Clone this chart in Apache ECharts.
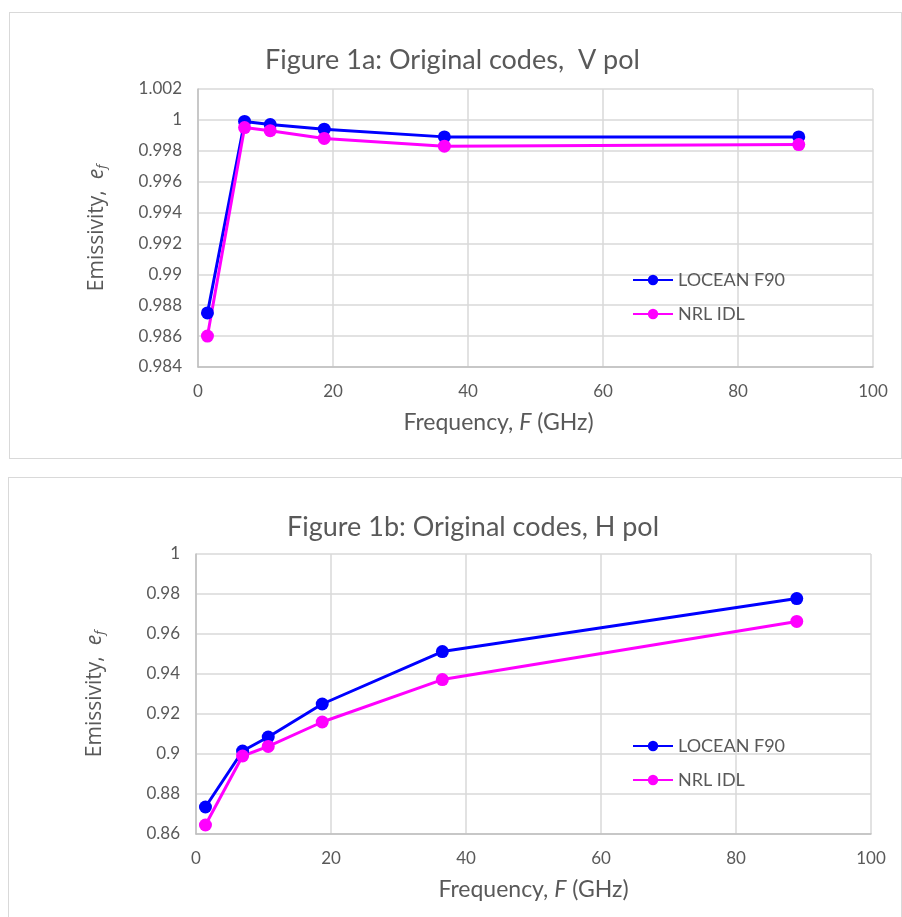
<!DOCTYPE html>
<html>
<head>
<meta charset="utf-8">
<script src="https://cdn.jsdelivr.net/npm/echarts@6/dist/echarts.min.js"></script>
<style>
  html, body { margin: 0; padding: 0; background: #fff; }
  body { width: 902px; height: 917px; position: relative; overflow: hidden; }
  .box { position: absolute; border: 1px solid #d9d9d9; box-sizing: border-box; }
  #chartV { left: 9px; top: 12px; width: 893px; height: 447px; }
  #chartH { left: 8px; top: 477px; width: 894px; height: 445px; }
</style>
</head>
<body>
<div id="chartV" class="box"></div>
<div id="chartH" class="box"></div>
<script>
"use strict";
// 频率 (GHz)
var freqs = [1.4, 6.9, 10.7, 18.7, 36.5, 89];
var seriesNames = ['LOCEAN F90', 'NRL IDL'];
// V pol
var vLocean = [0.9875, 0.9999, 0.9997, 0.9994, 0.9989, 0.9989];
var vNrl = [0.9860, 0.9995, 0.9993, 0.9988, 0.9983, 0.9984];
// H pol
var hLocean = [0.8735, 0.9015, 0.9085, 0.9250, 0.9512, 0.9777];
var hNrl = [0.8645, 0.8990, 0.9038, 0.9160, 0.9372, 0.9663];
var xTicks = [0, 20, 40, 60, 80, 100];

var txt = '#595959';
var gridCol = '#d9d9d9';
var font = 'Lato, "Open Sans", sans-serif';

function pairs(ys) {
    return freqs.map(function (f, i) { return [f, ys[i]]; });
}

function makeOption(cfg) {
    return {
        animation: false,
        title: {
            text: cfg.title,
            left: cfg.titleLeft,
            top: cfg.titleTop,
            textStyle: { color: txt, fontFamily: font, fontSize: 27, fontWeight: 'normal' }
        },
        legend: {
            orient: 'vertical',
            left: cfg.legLeft,
            top: cfg.legTop,
            itemWidth: 40,
            itemHeight: 13,
            itemGap: 16,
            textStyle: { color: txt, fontFamily: font, fontSize: 18 },
            data: seriesNames
        },
        grid: { left: cfg.gl, top: cfg.gt, width: 675, height: cfg.gh },
        xAxis: {
            type: 'value',
            min: 0, max: 100, interval: 20,
            name: 'Frequency, {i|F} (GHz)',
            nameLocation: 'middle',
            nameGap: 44,
            nameTextStyle: {
                color: txt, fontFamily: font, fontSize: 23,
                padding: cfg.xNamePad,
                rich: { i: { fontStyle: 'italic', fontFamily: font, fontSize: 23, color: txt } }
            },
            axisLine: { lineStyle: { color: '#bfbfbf', width: 1.5 } },
            axisTick: { show: false },
            axisLabel: { color: txt, fontFamily: font, fontSize: 17, margin: 16,
                formatter: function (v) { return xTicks.indexOf(v) >= 0 ? String(v) : ''; } },
            splitLine: { lineStyle: { color: gridCol, width: 1.5 } }
        },
        yAxis: {
            type: 'value',
            min: cfg.ymin, max: cfg.ymax, interval: cfg.yint,
            name: '{a|Emissivity,  }{b|e}{c|f}',
            nameLocation: 'middle',
            nameGap: 89,
            nameRotate: 90,
            nameTextStyle: {
                rich: {
                    a: { fontFamily: '"Open Sans", sans-serif', fontSize: 21, color: txt },
                    b: { fontFamily: '"Open Sans", sans-serif', fontSize: 21, fontStyle: 'italic', color: txt },
                    c: { fontFamily: '"Open Sans", sans-serif', fontSize: 13, fontStyle: 'italic', color: txt, padding: [11, 0, 0, 0] }
                }
            },
            axisLine: { show: true, lineStyle: { color: '#bfbfbf', width: 1.5 } },
            axisTick: { show: false },
            axisLabel: { color: txt, fontFamily: font, fontSize: 17, margin: 16,
                formatter: function (v) { return String(+v.toFixed(3)); } },
            splitLine: { lineStyle: { color: gridCol, width: 1.5 } }
        },
        series: [
            {
                name: seriesNames[0], type: 'line', data: pairs(cfg.a),
                symbol: 'circle', symbolSize: 13,
                itemStyle: { color: '#0000ff' },
                lineStyle: { color: '#0000ff', width: 3 }
            },
            {
                name: seriesNames[1], type: 'line', data: pairs(cfg.b),
                symbol: 'circle', symbolSize: 13,
                itemStyle: { color: '#ff00ff' },
                lineStyle: { color: '#ff00ff', width: 3 }
            }
        ]
    };
}

var chartV = echarts.init(document.getElementById('chartV'));
chartV.setOption(makeOption({
    title: 'Figure 1a: Original codes,  V pol',
    titleLeft: 250, titleTop: 29,
    legLeft: 617, legTop: 253,
    gl: 188, gt: 76, gh: 278,
    xNamePad: [0, 74, 0, 0],
    ymin: 0.984, ymax: 1.002, yint: 0.002,
    a: vLocean, b: vNrl
}));

var chartH = echarts.init(document.getElementById('chartH'));
chartH.setOption(makeOption({
    title: 'Figure 1b: Original codes, H pol',
    titleLeft: 273, titleTop: 31,
    legLeft: 618, legTop: 254,
    gl: 187, gt: 76, gh: 280,
    xNamePad: [0, 0, 0, 0],
    ymin: 0.86, ymax: 1, yint: 0.02,
    a: hLocean, b: hNrl
}));

window.onresize = function () {
    chartV.resize();
    chartH.resize();
};
</script>
</body>
</html>
